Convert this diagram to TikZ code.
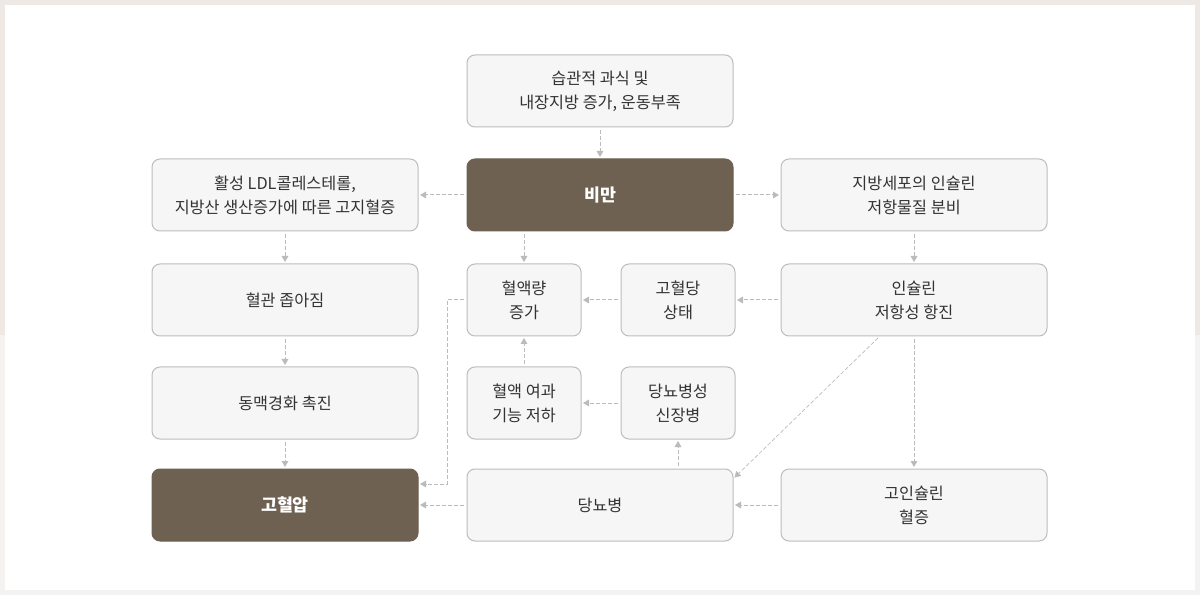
\documentclass[tikz,border=0pt]{standalone}
\usepackage{fontspec}
\setmainfont{Noto Sans CJK KR}
\usetikzlibrary{arrows.meta}
\definecolor{boxfill}{HTML}{F6F6F6}
\definecolor{boxline}{HTML}{BDBDBD}
\definecolor{darkbox}{HTML}{6E6151}
\definecolor{arrgray}{HTML}{BBBBBB}
\definecolor{txt}{HTML}{333333}
\definecolor{frameA}{HTML}{EEE9E5}
\definecolor{frameB}{HTML}{F5F3F1}

\begin{document}
\begin{tikzpicture}[x=0.75pt,y=-0.75pt,
	box/.style={draw=boxline,fill=boxfill,line width=0.75pt,rounded corners=6pt,minimum width=199.5pt,minimum height=54pt,inner sep=0pt,outer sep=0pt,align=center,text=txt,font=\fontsize{12.2}{18}\selectfont},
	small/.style={box,minimum width=85.5pt},
	dark/.style={box,draw=darkbox,fill=darkbox,text=white,font=\fontsize{13}{18}\selectfont\bfseries},
	arr/.style={draw=arrgray,line width=0.75pt,dash pattern=on 3pt off 1.5pt,-{Triangle[width=5pt,length=4.5pt]},shorten <=2pt,shorten >=1.5pt}]
			\useasboundingbox (0,0) rectangle (1200,595);
			\fill[frameB] (0,0) rectangle (1200,595);
			\fill[frameA] (0,0) rectangle (1200,335);
			\fill[white] (5,5) rectangle (1195,590);

			\node[box] (habit) at (600,91) {습관적 과식 및\\내장지방 증가, 운동부족};

			\node[box] (lipid) at (285,195) {활성 LDL콜레스테롤,\\지방산 생산증가에 따른 고지혈증};
			\node[dark] (obesity) at (600,195) {비만};
			\node[box] (secrete) at (914,195) {지방세포의 인슐린\\저항물질 분비};

			\node[box] (vessel) at (285,300) {혈관 좁아짐};
			\node[small] (volume) at (524,300) {혈액량\\증가};
			\node[small] (glucose) at (678,300) {고혈당\\상태};
			\node[box] (resist) at (914,300) {인슐린\\저항성 항진};

			\node[box] (sclerosis) at (285,403) {동맥경화 촉진};
			\node[small] (filter) at (524,403) {혈액 여과\\기능 저하};
			\node[small] (nephro) at (678,403) {당뇨병성\\신장병};

			\node[dark] (hypert) at (285,505) {고혈압};
			\node[box] (diabetes) at (600,505) {당뇨병};
			\node[box] (hyperins) at (914,505) {고인슐린\\혈증};

			\draw[arr] (habit) -- (obesity);
			\draw[arr] (obesity) -- (lipid);
			\draw[arr] (obesity) -- (secrete);
			\draw[arr] (obesity.south -| volume) -- (volume);
			\draw[arr] (lipid) -- (vessel);
			\draw[arr] (vessel) -- (sclerosis);
			\draw[arr] (sclerosis) -- (hypert);
			\draw[arr] (secrete) -- (resist);
			\draw[arr] (resist) -- (glucose);
			\draw[arr] (glucose) -- (volume);
			\draw[arr] (filter) -- (volume);
			\draw[arr] (nephro) -- (filter);
			\draw[arr] (diabetes.north -| nephro) -- (nephro);
			\draw[arr] (resist) -- (hyperins);
			\draw[arr,line width=0.5pt] ([xshift=-25.5pt]resist.south) -- ([yshift=-7.5pt]diabetes.north east);
			\draw[arr] (hyperins) -- (diabetes);
			\draw[arr] (diabetes) -- (hypert);
			\draw[arr] (volume.west) -- ++(-20,0) |- ([yshift=15.75pt]hypert.east);
		\end{tikzpicture}
\end{document}
